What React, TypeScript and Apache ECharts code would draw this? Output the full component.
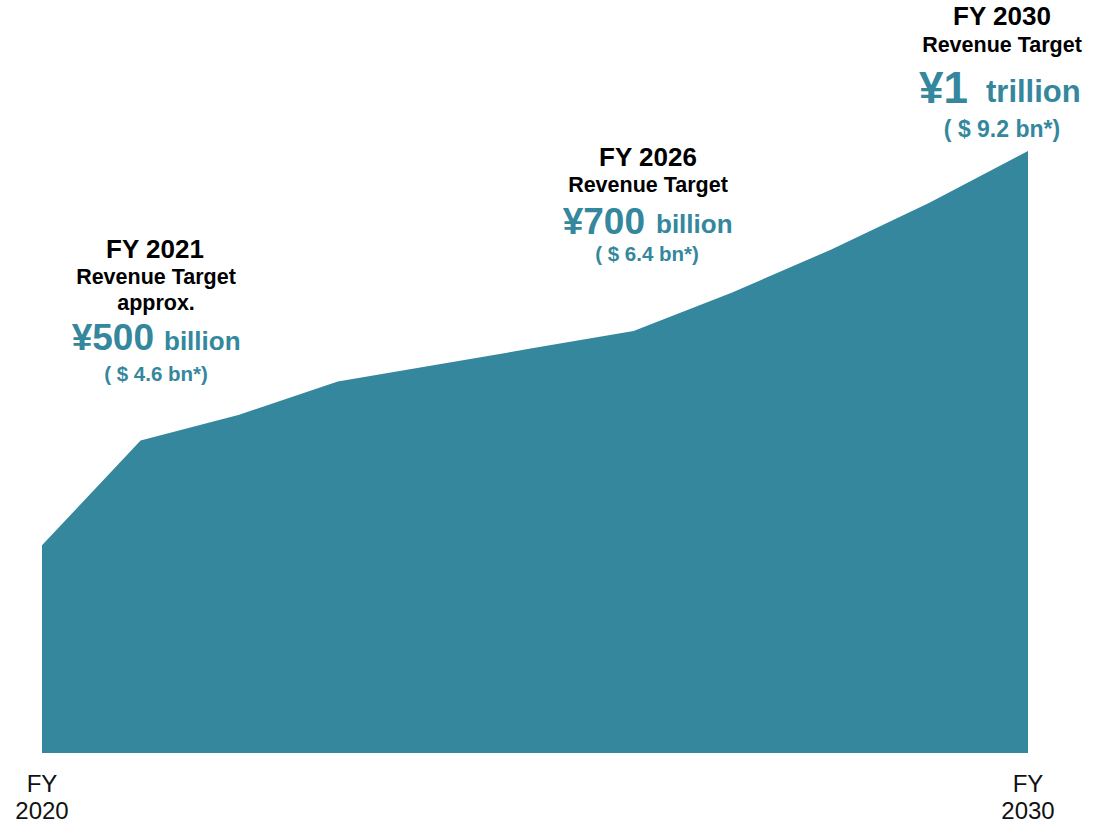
import React, { useEffect, useRef } from "react";
import * as echarts from "echarts";

const categories = ["2020", "2021", "2022", "2023", "2024", "2025", "2026", "2027", "2028", "2029", "2030"];
const revenue = [345, 519, 562, 617, 645, 673, 701, 765, 836, 914, 1000];
const shownTicks = ["2020", "2030"];

const TEAL = "#34879D";
const FONT = "'Liberation Sans', Arial, Helvetica, sans-serif";

function txt(text: string, x: number, y: number, size: number, color: string, align: string = "center") {
  return {
    type: "text",
    x,
    y,
    silent: true,
    style: {
      text,
      fill: color,
      font: `bold ${size}px ${FONT}`,
      align,
      verticalAlign: "middle",
    },
  };
}

export default function App() {
  const ref = useRef<HTMLDivElement>(null);
  useEffect(() => {
    if (!ref.current) return;
    const chart = echarts.init(ref.current, null, { renderer: "svg" });
    chart.setOption({
      animation: false,
      backgroundColor: "#ffffff",
      grid: { left: 42, right: 67, top: 151, bottom: 68, containLabel: false },
      xAxis: {
        type: "category",
        data: categories,
        boundaryGap: false,
        axisLine: { show: false },
        axisTick: { show: false },
        splitLine: { show: false },
        axisLabel: {
          interval: (_i: number, v: string) => shownTicks.includes(v),
          formatter: (v: string) => `FY\n${v}`,
          fontFamily: FONT,
          fontSize: 24,
          lineHeight: 27,
          color: "#111111",
          margin: 17,
        },
      },
      yAxis: {
        type: "value",
        min: 0,
        max: 1000,
        show: false,
        splitLine: { show: false },
      },
      series: [
        {
          type: "line",
          data: revenue,
          symbol: "none",
          lineStyle: { width: 0, color: TEAL },
          itemStyle: { color: TEAL },
          areaStyle: { color: TEAL, opacity: 1 },
        },
      ],
      graphic: [
        // FY 2021 block
        txt("FY 2021", 155, 249, 26, "#000000"),
        txt("Revenue Target", 156, 277, 21.5, "#000000"),
        txt("approx.", 156, 303, 21.5, "#000000"),
        txt("¥500", 154, 337, 37, TEAL, "right"),
        txt("billion", 164, 341, 26, TEAL, "left"),
        txt("( $ 4.6 bn*)", 156, 373, 20.5, TEAL),
        // FY 2026 block
        txt("FY 2026", 648, 157, 26, "#000000"),
        txt("Revenue Target", 648, 185, 21.5, "#000000"),
        txt("¥700", 645, 221, 37, TEAL, "right"),
        txt("billion", 656, 224, 26, TEAL, "left"),
        txt("( $ 6.4 bn*)", 647, 253, 20.5, TEAL),
        // FY 2030 block
        txt("FY 2030", 1002, 16, 26, "#000000"),
        txt("Revenue Target", 1002, 45, 21.5, "#000000"),
        txt("¥1", 968, 87, 44, TEAL, "right"),
        txt("trillion", 986, 91, 31, TEAL, "left"),
        txt("( $ 9.2 bn*)", 1002, 129, 23, TEAL),
      ],
    });
    return () => chart.dispose();
  }, []);
  return (
    <div
      ref={ref}
      style={{ position: "absolute", left: 0, top: 0, width: 1095, height: 824, background: "#fff" }}
    />
  );
}
